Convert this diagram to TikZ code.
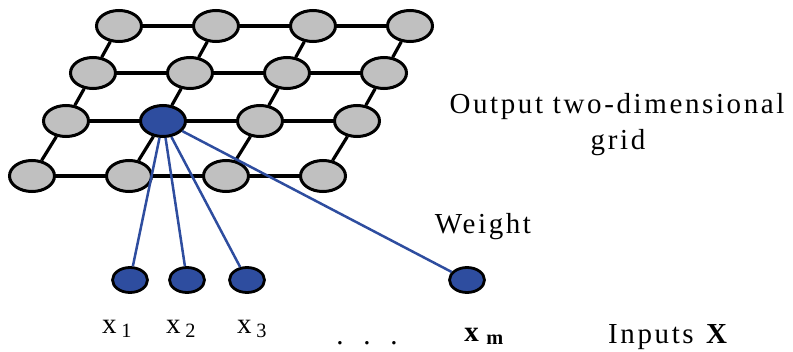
\documentclass[tikz,border=0pt]{standalone}
\usepackage{fontspec}
\setmainfont{Liberation Serif}[LetterSpace=9]
\usetikzlibrary{shapes.geometric}
\definecolor{cellgray}{HTML}{C0C0C0}
\definecolor{winblue}{HTML}{2E4D9F}
\begin{document}
\begin{tikzpicture}[x=1pt, y=-1pt, font=\fontsize{29}{33}\selectfont,
          cell/.style={ellipse, draw, line width=3pt, fill=cellgray, minimum width=45pt, minimum height=31pt, inner sep=0pt},
          winner/.style={cell, fill=winblue},
          inp/.style={ellipse, draw, line width=2.8pt, fill=winblue, minimum width=35pt, minimum height=25pt, inner sep=0pt},
          link/.style={line width=3.2pt},
          wt/.style={line width=2.5pt, draw=winblue},
          lbl/.style={inner sep=0pt, anchor=base}]
        \useasboundingbox (0,0) rectangle (793,351);
        % output grid
        \foreach \r/\y/\xs in {0/26/119, 1/73/93, 2/121/66, 3/176/32} {
          \foreach \c in {0,1,2,3} {
            \ifnum\r\c=21 \else
              \node[cell] (n-\r-\c) at (\xs+97*\c,\y) {};
            \fi
          }
        }
        \node[winner] (n-2-1) at (163,121) {};
        \foreach \r in {0,1,2,3}
          \foreach \c/\d in {0/1,1/2,2/3}
            \draw[link] (n-\r-\c) -- (n-\r-\d);
        \foreach \r/\s in {0/1,1/2,2/3}
          \foreach \c in {0,1,2,3}
            \draw[link] (n-\r-\c) -- (n-\s-\c);
        % inputs
        \foreach \n/\x in {1/130,2/187,3/247,m/467}
          \node[inp] (x-\n) at (\x,280) {};
        \foreach \n in {1,2,3,m}
          \draw[wt] (n-2-1) -- (x-\n);
        % labels
        \node[lbl] (l-1) at (117,333) {x\,\textsubscript{1}};
        \node[lbl] (l-2) at (181,333) {x\,\textsubscript{2}};
        \node[lbl] (l-3) at (252,333) {x\,\textsubscript{3}};
        \node[lbl] (l-dots) at (367,344) {.\ \ .\ \ .};
        \node[lbl] (l-m) at (485,341) {\textbf{x}\,\textsubscript{\textbf{m}}};
        \node[lbl] (out) at (617,113) {Output two-dimensional};
        \node[lbl] (grid) at (618,149) {grid};
        \node[lbl] (weight) at (483,233) {Weight};
        \node[lbl] (inputs) at (669,343) {Inputs \textbf{X}};
      \end{tikzpicture}
\end{document}
